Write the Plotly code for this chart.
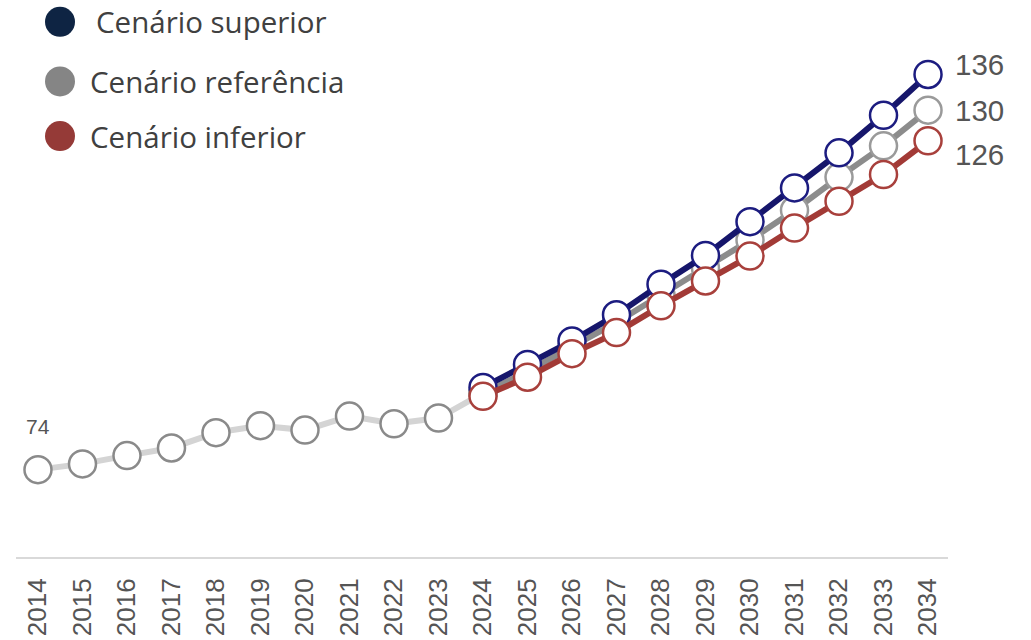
import plotly.graph_objects as go

years = [str(y) for y in range(2014, 2035)]
hist_years = years[:11]  # 2014-2024
hist_vals = [74.0, 74.9, 76.2, 77.4, 79.8, 80.9, 80.2, 82.4, 81.2, 82.1, 86.0]
proj_years = years[10:]  # 2024-2034
sup_vals = [86.9, 90.5, 94.2, 98.3, 103.1, 107.6, 112.9, 118.2, 123.7, 129.6, 136.0]
ref_vals = [86.0, 89.4, 93.3, 97.1, 101.4, 105.6, 110.0, 114.7, 119.9, 124.8, 130.4]
inf_vals = [85.5, 88.5, 92.2, 95.5, 99.7, 103.6, 107.5, 111.9, 116.1, 120.3, 125.6]

series_names = ["Cenário superior", "Cenário referência", "Cenário inferior"]
legend_colors = ["#0e2443", "#858585", "#953a37"]
line_colors = ["#16166b", "#8c8c8c", "#a23a36"]
marker_colors = ["#1c1c80", "#9a9a9a", "#a8403c"]

W, H = 1031, 640
ML, MR, MT, MB = 16, 83, 4, 79
PW = W - ML - MR
PH = H - MT - MB

fig = go.Figure()

# historical
fig.add_trace(go.Scatter(
    x=hist_years, y=hist_vals, mode="lines+markers",
    line=dict(color="#d4d4d4", width=6),
    marker=dict(size=27, color="white", line=dict(color="#8a8a8a", width=2.5)),
    cliponaxis=False, showlegend=False, hoverinfo="x+y"))

# projections: reference, superior, inferior order
for idx, vals in [(1, ref_vals), (0, sup_vals), (2, inf_vals)]:
    fig.add_trace(go.Scatter(
        x=proj_years, y=vals, mode="lines+markers", name=series_names[idx],
        line=dict(color=line_colors[idx], width=6),
        marker=dict(size=27, color="white", line=dict(color=marker_colors[idx], width=2.5)),
        cliponaxis=False, showlegend=False))

annotations = []
# first value label
annotations.append(dict(x=years.index(hist_years[0]), y=hist_vals[0], xref="x", yref="y",
                        text=f"{hist_vals[0]:.0f}", showarrow=False, yshift=43,
                        font=dict(family="Liberation Sans, Arial", size=21, color="#555555")))
# end labels
end_shifts = [10, 0, -14]
for vals, sh in zip([sup_vals, ref_vals, inf_vals], end_shifts):
    annotations.append(dict(x=years.index(proj_years[-1]), y=vals[-1], xref="x", yref="y",
                            text=f"{vals[-1]:.0f}", showarrow=False, xanchor="left",
                            xshift=25, yshift=sh,
                            font=dict(family="Liberation Sans, Arial", size=29.5, color="#555555")))

# custom legend
leg_y = [22, 82, 137]
leg_tx = [96, 90, 90]
shapes = []
for i in range(3):
    cy = 1 - (leg_y[i] - MT) / PH
    cx = (60 - ML) / PW
    shapes.append(dict(type="circle", xref="paper", yref="paper",
                       xsizemode="pixel", ysizemode="pixel",
                       xanchor=cx, yanchor=cy, x0=-15, x1=15, y0=-15, y1=15,
                       fillcolor=legend_colors[i], line=dict(width=0)))
    annotations.append(dict(x=(leg_tx[i] - ML) / PW, y=cy, xref="paper", yref="paper",
                            text=series_names[i], showarrow=False, xanchor="left",
                            yanchor="middle", xshift=-2,
                            font=dict(family="Open Sans, Arial", size=29.5, color="#404040")))

# y mapping: 74 -> y px 473 (page), 6.42 px per unit
k = 6.42
y0 = 74 - (PH - (473 - MT)) / k
y1 = y0 + PH / k

fig.update_layout(
    width=W, height=H,
    margin=dict(l=ML, r=MR, t=MT, b=MB),
    paper_bgcolor="white", plot_bgcolor="white",
    showlegend=False,
    annotations=annotations, shapes=shapes,
    xaxis=dict(type="category", categoryorder="array", categoryarray=years,
               range=[-0.494, 20.449], showgrid=False, zeroline=False,
               showline=True, linecolor="#d9d9d9", linewidth=2,
               ticks="", tickangle=-90, ticklabelstandoff=9,
               tickfont=dict(family="Liberation Sans, Arial", size=26, color="#555555")),
    yaxis=dict(range=[y0, y1], visible=False, showgrid=False, zeroline=False),
)

fig.write_html("out.html", config={"displayModeBar": False},
               post_script="document.body.style.margin='0';document.body.style.overflow='hidden';")
